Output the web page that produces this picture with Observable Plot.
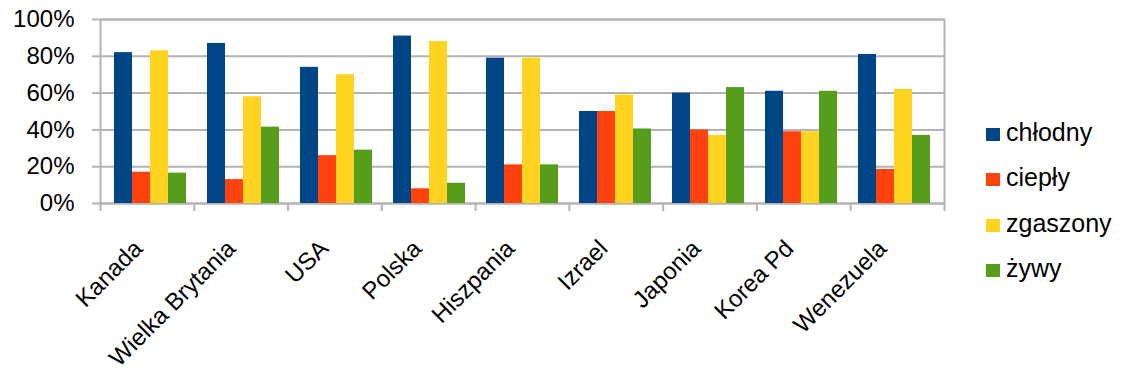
<!DOCTYPE html>
<html><head><meta charset="utf-8">
<script src="https://cdn.jsdelivr.net/npm/d3@7"></script>
<script src="https://cdn.jsdelivr.net/npm/@observablehq/plot@0.6"></script>
<style>
body{margin:0;background:#fff;font-family:"Liberation Sans",Arial,sans-serif;}
#wrap{position:relative;width:1123px;height:378px;overflow:hidden;}
#wrap svg{position:absolute;left:0;top:0;}
#legend{position:absolute;left:986px;top:109.5px;}
.row{display:flex;align-items:center;height:45.5px;font-size:25px;color:#000;}
.sw{width:14px;height:13px;margin-right:6px;position:relative;top:2px;}
</style></head><body><div id="wrap"></div>
<script>
const countries = ["Kanada","Wielka Brytania","USA","Polska","Hiszpania","Izrael","Japonia","Korea Pd","Wenezuela"];
const series = ["chłodny","ciepły","zgaszony","żywy"];
const colors = ["#004586","#ff420e","#ffd320","#579d1c"];
const chlodny  = [0.82, 0.87, 0.74, 0.91, 0.79, 0.50, 0.60, 0.61, 0.81];
const cieply   = [0.17, 0.13, 0.26, 0.08, 0.21, 0.50, 0.40, 0.39, 0.185];
const zgaszony = [0.83, 0.58, 0.70, 0.88, 0.79, 0.59, 0.37, 0.39, 0.62];
const zywy     = [0.165, 0.415, 0.29, 0.11, 0.21, 0.405, 0.63, 0.61, 0.37];
const yTicks = [0, 0.2, 0.4, 0.6, 0.8, 1];
const yTickLabels = ["0%","20%","40%","60%","80%","100%"];

const seriesValues = [chlodny, cieply, zgaszony, zywy];
const data = countries.flatMap((c, i) => series.map((s, j) => ({country: c, series: s, value: seriesValues[j][i]})));

const dims = {width: 1123, height: 378, marginLeft: 100, marginRight: 179, marginTop: 19, marginBottom: 175};
const font = {fontFamily: '"Liberation Sans", Arial, sans-serif', fontSize: "24px", background: "transparent", color: "#000"};
const grey = "#b3b3b3";

const back = Plot.plot({
  ...dims, style: font,
  x: {domain: [0, countries.length], axis: null},
  y: {domain: [0, 1], axis: null},
  marks: [
    Plot.gridY(yTicks, {stroke: grey, strokeOpacity: 1, strokeWidth: 2}),
    Plot.axisY({ticks: yTicks, tickFormat: d => yTickLabels[yTicks.findIndex(t => Math.abs(t - d) < 1e-9)], tickSize: 8, tickPadding: 18, stroke: grey, strokeWidth: 2, fontSize: 24, fill: "#000", label: null}),
    Plot.axisX({ticks: d3.range(countries.length + 1), tickFormat: () => "", tickSize: 8, stroke: grey, strokeWidth: 2, label: null}),
    Plot.frame({stroke: grey, strokeWidth: 2})
  ]
});

const front = Plot.plot({
  ...dims, style: font,
  fx: {domain: countries, paddingInner: 0.2, paddingOuter: 0.1, label: null},
  x: {domain: series, padding: 0, axis: null},
  y: {domain: [0, 1], axis: null},
  color: {domain: series, range: colors},
  marks: [
    Plot.barY(data, {fx: "country", x: "series", y: "value", fill: "series"}),
    Plot.axisFx({anchor: "bottom", tickRotate: -45, tickSize: 0, tickPadding: 41, dx: -12, fontSize: 24, fill: "#000", label: null})
  ]
});

const wrap = document.getElementById("wrap");
wrap.append(back, front);

const legend = document.createElement("div");
legend.id = "legend";
series.forEach((s, i) => {
  const row = document.createElement("div");
  row.className = "row";
  const sw = document.createElement("div");
  sw.className = "sw";
  sw.style.background = colors[i];
  const t = document.createElement("span");
  t.textContent = s;
  row.append(sw, t);
  legend.append(row);
});
wrap.append(legend);
</script></body></html>
